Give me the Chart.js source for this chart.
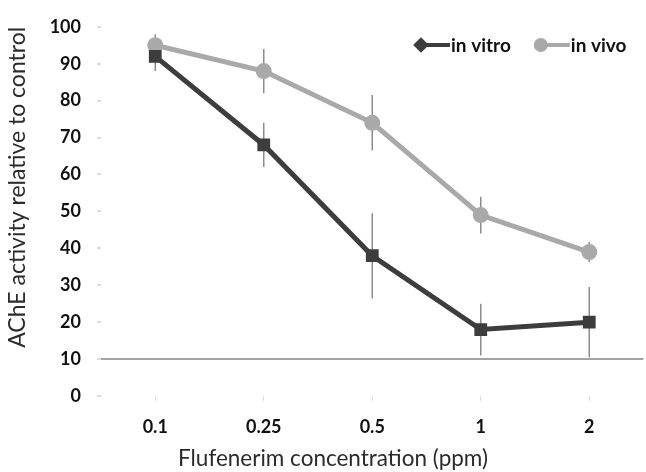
<!DOCTYPE html>
<html>
<head>
<meta charset="utf-8">
<script src="https://cdn.jsdelivr.net/npm/chart.js@4.4.1/dist/chart.umd.min.js"></script>
<style>
  html, body { margin: 0; padding: 0; overflow: hidden; background: #fff; }
  #wrap { width: 646px; height: 472px; overflow: hidden; }
</style>
</head>
<body>
<div id="wrap"><canvas id="chart" width="654" height="472"></canvas></div>
<script>
// data
const concentrations = ['0.1', '0.25', '0.5', '1', '2'];
const inVitro = [92, 68, 38, 18, 20];
const inVitroErr = [4, 6, 11.5, 7, 9.5];
const inVivo = [95, 88, 74, 49, 39];
const inVivoErr = [3, 6, 7.5, 5, 2.7];

const labelFont = { family: 'Lato', size: 18, weight: 'bold' };
const titleFont = { family: 'Lato', size: 22.5, weight: 'normal' };

// vertical error bars, drawn under the lines
const errorBars = {
  id: 'errorBars',
  beforeDatasetsDraw(chart) {
    const { ctx, scales: { x, y } } = chart;
    ctx.save();
    ctx.strokeStyle = '#8c8c8c';
    ctx.lineWidth = 1.5;
    chart.data.datasets.forEach(ds => {
      ds.data.forEach((v, i) => {
        const px = x.getPixelForValue(i);
        ctx.beginPath();
        ctx.moveTo(px, y.getPixelForValue(v - ds.errors[i]));
        ctx.lineTo(px, y.getPixelForValue(v + ds.errors[i]));
        ctx.stroke();
      });
    });
    ctx.restore();
  }
};

// legend with line + marker, sitting inside the plot area
const lineLegend = {
  id: 'lineLegend',
  afterDraw(chart) {
    const { ctx } = chart;
    const y = 45;
    let x = 416;
    ctx.save();
    ctx.font = 'bold 19px Lato';
    ctx.textBaseline = 'middle';
    chart.data.datasets.forEach(ds => {
      ctx.strokeStyle = ds.borderColor;
      ctx.lineWidth = 4;
      ctx.beginPath();
      ctx.moveTo(x + 4, y);
      ctx.lineTo(x + 34, y);
      ctx.stroke();
      ctx.fillStyle = ds.pointBackgroundColor;
      ctx.strokeStyle = ds.borderColor;
      Chart.helpers.drawPoint(ctx, {
        pointStyle: ds.legendPoint, radius: 5, borderWidth: 1, rotation: 0
      }, x + 5, y);
      ctx.fillStyle = '#111';
      ctx.fillText(ds.label, x + 35, y + 1);
      x += 35 + ctx.measureText(ds.label).width + 25;
    });
    ctx.restore();
  }
};

new Chart(document.getElementById('chart'), {
  type: 'line',
  data: {
    labels: concentrations,
    datasets: [{
      label: 'in vitro',
      data: inVitro,
      errors: inVitroErr,
      borderColor: '#3d3d3d',
      backgroundColor: '#3d3d3d',
      pointBackgroundColor: '#3d3d3d',
      pointStyle: 'rect',
      legendPoint: 'rectRot',
      pointRadius: 5.5,
      borderWidth: 5,
      tension: 0
    }, {
      label: 'in vivo',
      data: inVivo,
      errors: inVivoErr,
      borderColor: '#a9a9a9',
      backgroundColor: '#a9a9a9',
      pointBackgroundColor: '#a9a9a9',
      pointStyle: 'circle',
      legendPoint: 'circle',
      pointRadius: 5.5,
      borderWidth: 5,
      tension: 0
    }]
  },
  options: {
    responsive: false,
    animation: false,
    layout: { padding: { left: 12, right: 0, top: 23, bottom: 0 } },
    plugins: {
      legend: { display: false },
      tooltip: { enabled: false },
      title: {
        display: true,
        position: 'bottom',
        text: 'Flufenerim concentration (ppm)',
        font: titleFont,
        color: '#2b2b2b',
        padding: { top: 0, bottom: 0 }
      }
    },
    scales: {
      x: {
        offset: true,
        border: { display: false },
        grid: { drawOnChartArea: false, tickLength: 5, tickColor: '#dcdcdc' },
        ticks: { padding: 15, color: '#111', font: labelFont },
        afterFit: s => { s.height = 49; }
      },
      y: {
        min: 0,
        max: 100,
        border: { display: false },
        grid: {
          color: c => (c.tick && c.tick.value === 10 ? '#a3a3a3' : 'rgba(0,0,0,0)'),
          lineWidth: 2,
          tickLength: 4,
          tickColor: '#dcdcdc'
        },
        ticks: { stepSize: 10, padding: 16, color: '#111', font: labelFont },
        title: {
          display: true,
          text: 'AChE activity relative to control',
          align: 'end',
          font: { family: 'Lato', size: 23, weight: 'normal' },
          color: '#2b2b2b',
          padding: { top: -8, bottom: 0 }
        },
        afterFit: s => { s.width = 89; }
      }
    }
  },
  plugins: [errorBars, lineLegend]
});
</script>
</body>
</html>
